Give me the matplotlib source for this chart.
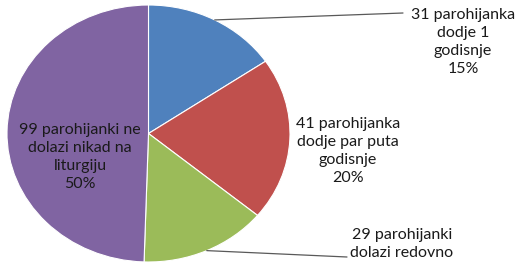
import matplotlib
matplotlib.use("Agg")
import matplotlib.pyplot as plt
import numpy as np

categories = ["31 parohijanka\ndodje 1\ngodisnje",
              "41 parohijanka\ndodje par puta\ngodisnje",
              "29 parohijanki\ndolazi redovno",
              "99 parohijanki ne\ndolazi nikad na\nliturgiju"]
values = [31, 41, 29, 99]
pct_labels = ["15%", "20%", None, "50%"]
colors = ["#4F81BD", "#C0504D", "#9BBB59", "#8064A2"]

W, H = 528, 265
plt.rcParams['font.family'] = ['Lato', 'DejaVu Sans']
fig = plt.figure(figsize=(W / 100, H / 100), dpi=100)
ax = fig.add_axes([0, 0, 1, 1])

wedges, _ = ax.pie(values, colors=colors, startangle=90, counterclock=False,
                   wedgeprops=dict(edgecolor="white", linewidth=0.8))
ax.set_aspect('auto')
cx, cy, rx, ry = 148.5, 133.5, 141.5, 128.5
ax.set_xlim(-cx / rx, (W - cx) / rx)
ax.set_ylim(-(H - cy) / ry, cy / ry)
ax.axis('off')

def px(x, y):
    return (x / W, 1 - y / H)

# label texts
label_pos = [(463, 42), (348, 151), (402, 244), (80, 157)]
leader_end = [(403, 13), None, (347, 257), None]
tc = "#1a1a1a"
for i, (w, lab) in enumerate(zip(wedges, categories)):
    txt = lab if pct_labels[i] is None else lab + "\n" + pct_labels[i]
    ax.text(*px(*label_pos[i]), txt, transform=fig.transFigure, ha='center',
            va='center', fontsize=11.5, color=tc, linespacing=1.38)
    if leader_end[i] is not None:
        ang = np.deg2rad((w.theta1 + w.theta2) / 2)
        x0, y0 = np.cos(ang), np.sin(ang)
        ax.annotate("", xy=(x0, y0), xycoords='data',
                    xytext=px(*leader_end[i]), textcoords='figure fraction',
                    arrowprops=dict(arrowstyle='-', color='#595959', lw=0.9,
                                    shrinkA=0, shrinkB=0))

fig.savefig("out.png", dpi=100, facecolor="white")
